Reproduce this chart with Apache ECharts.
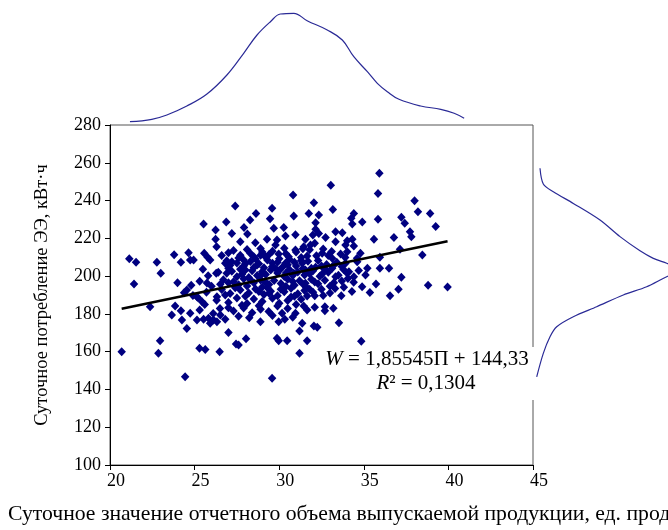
<!DOCTYPE html>
<html><head><meta charset="utf-8">
<script src="https://cdn.jsdelivr.net/npm/echarts@6/dist/echarts.min.js"></script>
<style>html,body{margin:0;padding:0;background:#fff}#c{width:668px;height:530px}</style>
</head><body><div id="c"></div>
<script>
// Daily points [production П, consumption W]
const upperPoints = [
[33.05,248.1],[30.82,243.0],[35.92,254.4],[35.84,243.8],[32.05,238.8],[27.40,237.1],[29.58,235.9],[33.17,235.3],
[38.00,239.9],[38.20,234.1],[38.92,233.2],[34.41,233.2],[28.63,233.2],[30.86,231.8],[31.75,233.2],[32.34,232.3],
[34.26,230.6],[35.84,230.1],[37.22,231.1],[26.87,228.6],[25.53,227.6],[28.28,229.7],[29.46,230.4],[32.15,228.3],
[34.91,228.6],[37.42,228.0],[34.32,227.6],[39.25,226.2],[26.24,224.4],[27.92,225.8],[29.68,225.3],[30.27,225.8],
[32.15,224.8],[37.73,223.5],[33.33,223.5],[33.73,223.0],[27.20,222.6],[28.12,222.3],[30.96,221.9],[32.34,222.6],
[30.37,221.2],[31.99,221.8],[37.81,220.9],[36.78,220.5],[35.60,219.5],[26.24,219.5],[29.28,219.5],[31.55,219.5],
[32.74,220.5],[34.02,218.7],[34.32,219.5],[27.70,218.2],[28.59,217.7],[29.87,219.1],[33.33,218.2],[32.10,217.4],
[29.78,216.5],[31.45,215.6],[33.92,216.5],[34.41,215.9],[26.30,215.6],[31.85,216.5]
];
const middlePoints = [
[37.14,214.2],[30.96,213.8],[34.80,212.1],[34.02,212.9],[38.46,211.2],[27.00,212.4],[29.00,212.8],[32.54,212.1],
[33.63,211.7],[29.97,211.7],[23.79,211.3],[24.64,212.4],[25.57,212.1],[35.95,210.0],[28.50,210.3],[29.18,210.3],
[30.56,210.3],[31.65,210.6],[25.77,210.0],[33.13,209.4],[21.14,209.2],[21.54,207.3],[22.77,207.3],[24.19,207.3],
[24.74,208.5],[24.94,208.5],[25.92,208.5],[27.90,208.5],[27.20,207.6],[34.61,207.6],[26.81,206.8],[30.37,206.8],
[31.36,206.8],[33.92,206.8],[28.69,205.9],[29.58,205.0],[32.15,204.7],[33.13,204.1],[27.00,204.1],[35.21,204.1],
[35.95,204.1],[36.49,204.1],[25.49,203.6],[28.00,203.2],[31.55,203.2],[34.12,202.3],[28.99,202.3],[23.00,201.5],
[26.28,201.5],[30.86,201.5],[32.54,201.1],[34.02,201.5],[26.90,201.5]
];
const lowerPoints = [
[37.22,199.4],[34.41,199.7],[33.33,199.7],[34.06,198.8],[35.72,195.8],[38.80,195.1],[39.95,194.2],[31.55,196.2],
[33.23,196.5],[37.05,193.0],[33.82,194.1],[35.36,191.3],[36.55,189.6],[33.67,189.6],[31.65,189.5],[32.10,189.6],
[31.45,184.2],[32.10,183.5],[32.70,183.8],[33.20,183.0],[32.70,181.7],[31.36,175.0],[32.05,173.6],[32.25,172.9],
[33.53,175.3],[34.85,165.5],[31.65,165.8],[31.20,159.1],[31.20,170.9],[29.58,145.9],[27.45,164.1],[27.60,163.5],
[28.04,166.9],[29.87,167.1],[29.97,165.8],[30.47,165.8],[27.00,170.2],[28.23,178.0],[28.89,175.9],[29.97,175.9],
[30.33,177.1],[29.38,181.2],[30.17,180.3],[30.96,180.3],[31.65,182.1],[27.00,183.3],[20.69,160.0],[21.42,195.8],
[23.99,196.5],[24.54,192.6],[24.38,191.2],[22.37,183.8],[23.85,184.2],[23.65,179.4],[24.19,181.7],[24.74,180.3],
[24.25,176.8],[24.54,172.3],[25.14,176.8],[25.53,177.1],[25.82,177.7],[26.12,176.8],[26.52,179.4],[25.92,175.0],
[26.32,175.9],[26.81,177.1],[22.96,165.8],[22.86,159.1],[25.29,161.8],[25.63,161.2],[26.48,160.0],[24.44,146.7],
[25.14,189.1],[25.44,186.4],[25.73,196.3],[26.52,195.7],[27.00,196.5],[26.32,189.1],[26.81,190.0]
];
const corePoints = [
[27.3,213.5],[28.1,214.1],[28.9,214.6],[29.6,213.2],[30.3,214.8],[31.0,212.7],[31.8,213.9],[32.6,214.4],[33.1,213.0],
[27.7,211.0],[30.0,209.2],[31.3,209.9],[32.2,210.8],[28.3,212.0],[29.4,211.4],[26.6,210.9],[33.9,209.8],
[27.5,207.0],[28.3,207.8],[28.8,206.6],[29.3,208.5],[29.9,207.4],[30.6,208.9],[31.0,205.4],[31.7,207.9],[32.3,208.3],
[32.8,206.2],[33.4,207.4],[27.9,205.4],[29.1,204.4],[30.2,204.8],[31.9,204.2],[30.9,207.3],[28.6,209.0],[33.7,205.1],
[26.9,208.1],[34.6,209.5],
[27.2,202.6],[27.8,201.0],[28.4,202.9],[28.7,200.3],[29.5,203.3],[29.9,201.6],[30.3,199.8],[30.6,203.5],[31.1,202.2],
[31.5,200.6],[32.0,202.8],[32.4,199.9],[32.9,202.1],[33.5,200.4],[33.8,203.5],[29.2,200.9],[30.0,203.0],[31.8,201.3],
[27.5,199.6],[28.2,199.2],[26.4,202.0],[25.8,200.2],[34.7,203.0],[35.1,200.6],[30.8,200.3],
[26.7,198.1],[27.3,197.0],[27.9,198.6],[28.5,196.5],[28.9,198.0],[29.4,195.5],[29.7,197.7],[30.1,196.1],[30.5,198.4],
[30.9,195.2],[31.2,197.5],[31.9,198.3],[32.3,195.9],[32.7,197.8],[33.0,194.6],[33.7,197.4],[28.1,194.8],[29.0,194.2],
[30.4,194.5],[34.4,196.8],[26.0,194.6],[25.3,197.3],[24.8,195.1],[34.9,194.4],[31.6,194.3],[27.6,195.4],
[26.6,192.9],[27.1,190.8],[27.7,192.6],[28.2,191.0],[28.6,193.2],[29.1,190.3],[29.5,192.0],[29.9,189.6],[30.3,191.7],
[30.7,193.6],[31.1,190.6],[31.5,192.4],[32.0,191.4],[32.5,193.0],[33.0,191.0],[33.3,193.5],[28.0,189.3],[29.3,193.8],
[30.9,189.3],[25.7,191.5],[24.9,189.8],[34.3,191.9],[32.6,189.8],
[26.3,187.2],[27.0,186.0],[27.5,188.4],[28.1,185.5],[28.5,187.9],[29.0,186.5],[29.6,188.3],[30.0,185.6],[30.5,187.1],
[31.0,185.0],[31.3,187.8],[30.7,188.9],[28.8,184.3],[27.8,184.6],[29.9,184.2],[25.6,185.0],[25.2,188.5],
[26.5,182.8],[27.3,181.5],[27.9,183.1],[28.4,180.6],[28.9,182.5],[29.6,179.2],[30.5,182.8],[27.6,178.8],[26.1,180.2],
[25.3,182.0],[30.8,178.2],
[27.6,209.6],[28.9,211.0],[30.4,211.9],[31.4,214.5],[32.9,210.9],[28.0,206.6],[29.6,206.8],[30.5,206.0],[31.3,208.2],
[32.5,205.4],[27.1,205.8],[28.5,204.5],[29.8,203.9],[31.4,204.0],[33.2,205.6],[27.7,203.6],[29.0,201.2],[30.4,201.6],
[31.6,202.0],[32.7,203.6],[28.3,197.9],[29.2,196.8],[30.8,197.1],[31.4,195.8],[32.1,196.9],[27.4,193.9],[28.8,191.9],
[30.1,193.0],[31.8,193.0],[29.4,190.9]
];
// Marginal density curves
const topDensityP = [21.18,22.47,23.36,24.54,25.73,26.91,27.90,28.69,29.48,30.07,30.86,31.65,32.84,33.73,34.41,35.21,35.80,36.39,37.08,38.36,39.55,40.34,40.93];
const topDensity  = [3.3,5.7,10,19,31,50,71.7,90,103.3,111,111.7,104.3,95,85,68.3,53.3,41.7,33.3,25.7,19,15.7,11.7,6.7];
const rightDensityW = [257.1,248.8,244.7,238.5,229.7,220.9,213.4,209.4,206.8,203.2,199.7,194.4,190.0,183.8,178.5,173.2,167.9,159.1,146.7];
const rightDensity  = [7,10.3,20.3,40.3,67,87,107,120.3,133.7,150,133.7,113.7,90.3,63.7,40.3,23.7,17,10.3,3.7];
// Regression from the label
const slope = 1.85545, intercept = 144.33;
const eqText1 = '{i|W} = 1,85545П + 144,33';
const eqText2 = '{i|R}² = 0,1304';
const yTitle = 'Суточное потребление ЭЭ, кВт·ч';
const xTitle = 'Суточное значение отчетного объема выпускаемой продукции, ед. продукции';

const allPoints = upperPoints.concat(middlePoints, lowerPoints, corePoints);
const ps = allPoints.map(p => p[0]);
const minP = Math.min(...ps), maxP = Math.max(...ps);
const trend = [[minP, slope*minP+intercept],[maxP, slope*maxP+intercept]];
const topCurve = topDensityP.map((p,i)=>[p, topDensity[i]]);
const rightCurve = rightDensityW.map((w,i)=>[rightDensity[i], w]);

const serif = 'Liberation Serif';
const chart = echarts.init(document.getElementById('c'), null, {renderer:'canvas'});
chart.setOption({
  animation:false,
  backgroundColor:'#fff',
  grid:[
    {left:110, top:125, width:423, height:340, show:true, borderColor:'#555', borderWidth:1, outerBoundsMode:'none', containLabel:false},
    {left:110, top:10, width:423, height:115, outerBoundsMode:'none', containLabel:false},
    {left:533, top:125, width:135, height:340, outerBoundsMode:'none', containLabel:false}
  ],
  xAxis:[
    {gridIndex:0, type:'value', min:20, max:45, interval:5,
     axisLine:{show:true, onZero:false, lineStyle:{color:'#000', width:1}},
     axisTick:{show:true, inside:false, length:5, lineStyle:{color:'#000'}},
     axisLabel:{color:'#000', fontFamily:serif, fontSize:18, margin:7, padding:[0,0,0,12], hideOverlap:false},
     splitLine:{show:false}},
    {gridIndex:1, type:'value', min:20, max:45, show:false},
    {gridIndex:2, type:'value', min:0, max:135, show:false}
  ],
  yAxis:[
    {gridIndex:0, type:'value', min:100, max:280, interval:20,
     axisLine:{show:true, onZero:false, lineStyle:{color:'#000', width:1}},
     axisTick:{show:true, inside:false, length:5, lineStyle:{color:'#000'}},
     axisLabel:{color:'#000', fontFamily:serif, fontSize:18, margin:9, hideOverlap:false},
     splitLine:{show:false},
     name:yTitle, nameLocation:'middle', nameRotate:90, nameGap:58,
     nameTextStyle:{fontFamily:serif, fontSize:18.5, color:'#000'}},
    {gridIndex:1, type:'value', min:0, max:115, show:false},
    {gridIndex:2, type:'value', min:100, max:280, show:false}
  ],
  series:[
    {type:'scatter', xAxisIndex:0, yAxisIndex:0, data:allPoints, symbol:'diamond', symbolSize:[8.5,9],
     itemStyle:{color:'#000080', opacity:1}, z:2},
    {type:'line', xAxisIndex:0, yAxisIndex:0, data:trend, symbol:'none', lineStyle:{color:'#000', width:2.5}, z:5},
    {type:'line', xAxisIndex:1, yAxisIndex:1, data:topCurve, symbol:'none', smooth:0.4,
     lineStyle:{color:'#2a2a96', width:1.2}},
    {type:'line', xAxisIndex:2, yAxisIndex:2, data:rightCurve, symbol:'none', smooth:0.3, clip:true,
     lineStyle:{color:'#2a2a96', width:1.2}}
  ],
  graphic:[
    {type:'rect', z:100, shape:{x:322, y:347, width:213, height:53}, style:{fill:'#fff'}},
    {type:'text', z:101, x:427, y:359, style:{text:eqText1, fontFamily:serif, fontSize:21, fill:'#000',
      align:'center', verticalAlign:'middle',
      rich:{i:{fontStyle:'italic', fontFamily:serif, fontSize:21, fill:'#000'}}}},
    {type:'text', z:101, x:426, y:383, style:{text:eqText2, fontFamily:serif, fontSize:21, fill:'#000',
      align:'center', verticalAlign:'middle',
      rich:{i:{fontStyle:'italic', fontFamily:serif, fontSize:21, fill:'#000'}}}},
    {type:'text', z:101, x:8, y:514, style:{text:xTitle, fontFamily:serif, fontSize:21.7, fill:'#000',
      align:'left', verticalAlign:'middle'}}
  ]
});
</script></body></html>
